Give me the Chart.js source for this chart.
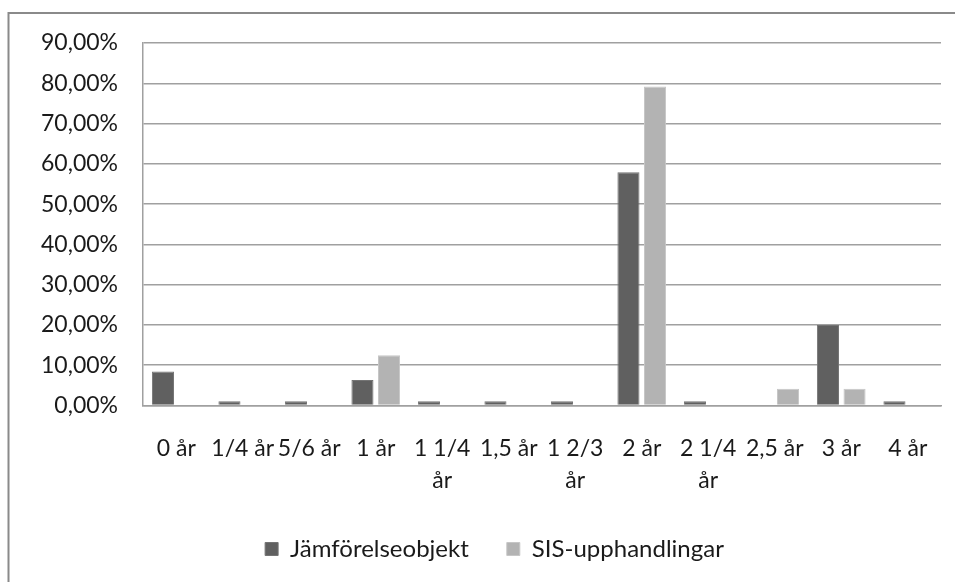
<!DOCTYPE html>
<html>
<head>
<meta charset="utf-8">
<script src="https://cdn.jsdelivr.net/npm/chart.js@4.4.1/dist/chart.umd.min.js"></script>
<style>
  html, body { margin: 0; padding: 0; background: #ffffff; }
  #wrap { position: relative; width: 955px; height: 582px; }
</style>
</head>
<body>
<div id="wrap"><canvas id="c" width="955" height="582"></canvas></div>
<script>
// Categories (duration), multi-line where the label wraps
const categories = ['0 år', '1/4 år', '5/6 år', '1 år', ['1 1/4', 'år'], '1,5 år',
                    ['1 2/3', 'år'], '2 år', ['2 1/4', 'år'], '2,5 år', '3 år', '4 år'];

// Share of each group, in percent
const jamforelseobjekt = [8.42, 1.05, 1.05, 6.32, 1.05, 1.05, 1.05, 57.89, 1.05, 0, 20.0, 1.05];
const sisUpphandlingar = [0, 0, 0, 12.5, 0, 0, 0, 79.17, 0, 4.17, 4.17, 0];

// Y axis ticks
const yTicks = [0, 10, 20, 30, 40, 50, 60, 70, 80, 90];

const seriesNames = ['Jämförelseobjekt', 'SIS-upphandlingar'];

const FONT = 'Lato, "Open Sans", "DejaVu Sans", sans-serif';

// Frame around the chart
const framePlugin = {
  id: 'frame',
  beforeDraw(chart) {
    const ctx = chart.ctx;
    ctx.save();
    ctx.fillStyle = '#ffffff';
    ctx.fillRect(0, 0, chart.width, chart.height);
    ctx.strokeStyle = '#8a8a8a';
    ctx.lineWidth = 2;
    ctx.strokeRect(8.5, 13, 1000, 1000);
    ctx.restore();
  }
};

// Nudge the legend row a little to the right of centre
const legendShift = {
  id: 'legendShift',
  afterLayout(chart) {
    if (chart.legend) {
      chart.legend.left += 24;
      chart.legend.right += 24;
    }
  }
};

new Chart(document.getElementById('c'), {
  type: 'bar',
  data: {
    labels: categories,
    datasets: [
      {
        label: seriesNames[0],
        data: jamforelseobjekt,
        backgroundColor: '#606060',
        borderColor: '#747474',
        borderWidth: 1,
        categoryPercentage: 0.8,
        barPercentage: 0.83
      },
      {
        label: seriesNames[1],
        data: sisUpphandlingar,
        backgroundColor: '#b3b3b3',
        borderColor: '#c6c6c6',
        borderWidth: 1,
        categoryPercentage: 0.8,
        barPercentage: 0.83
      }
    ]
  },
  options: {
    responsive: false,
    animation: false,
    devicePixelRatio: 1,
    layout: { padding: { left: 0, right: 14, top: 43, bottom: 13 } },
    plugins: {
      legend: {
        position: 'bottom',
        maxHeight: 70,
        labels: {
          font: { family: FONT, size: 24 },
          color: '#1a1a1a',
          boxWidth: 13,
          boxHeight: 13,
          padding: 38
        }
      },
      tooltip: { enabled: false }
    },
    scales: {
      x: {
        grid: { display: false, drawTicks: false },
        border: { display: true, color: '#a0a0a0', width: 1.5 },
        ticks: {
          autoSkip: false,
          maxRotation: 0,
          minRotation: 0,
          padding: 27,
          color: '#1a1a1a',
          font: { family: FONT, size: 23, lineHeight: 1.4 }
        },
        afterFit(scale) { scale.height = 93.5; }
      },
      y: {
        min: 0,
        max: 90,
        afterBuildTicks(scale) { scale.ticks = yTicks.map(v => ({ value: v })); },
        grid: { color: '#a0a0a0', lineWidth: 1.5, drawTicks: false },
        border: { display: true, color: '#a0a0a0', width: 1.5 },
        ticks: {
          padding: 25,
          color: '#1a1a1a',
          font: { family: FONT, size: 23 },
          callback: v => v.toFixed(2).replace('.', ',') + '%'
        },
        afterFit(scale) { scale.width = 143; }
      }
    }
  },
  plugins: [framePlugin, legendShift]
});
</script>
</body>
</html>
